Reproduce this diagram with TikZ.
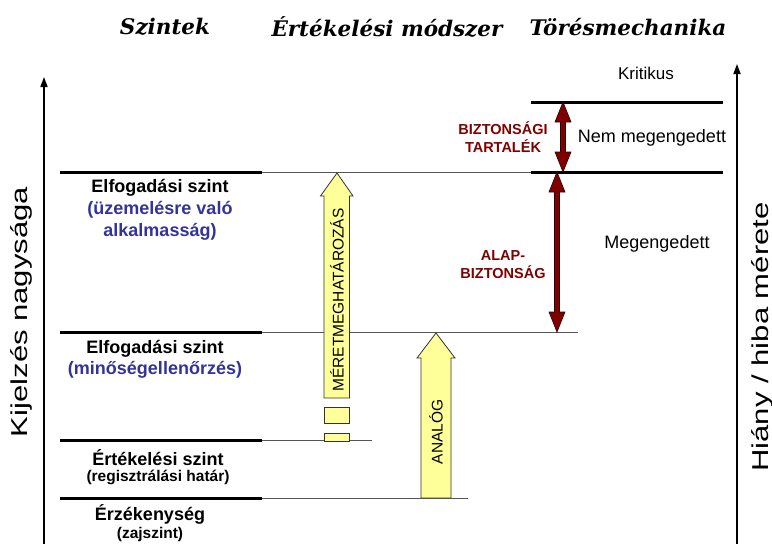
\documentclass[tikz,border=0pt]{standalone}
\usepackage{fontspec}
\setmainfont{Liberation Sans}
\newfontfamily\titlefont{DejaVu Serif}
\usetikzlibrary{arrows.meta}
\definecolor{darkred}{HTML}{800000}
\definecolor{lblue}{HTML}{333399}
\definecolor{pyellow}{HTML}{FFFF99}
\definecolor{thingray}{HTML}{555555}
\tikzset{
  title/.style={font=\titlefont\bfseries\itshape\fontsize{21.5}{24}\selectfont},
  lvl/.style={font=\bfseries\fontsize{18}{21}\selectfont, align=center, inner sep=0pt},
  lvlsmall/.style={font=\bfseries\fontsize{15.5}{18}\selectfont, align=center, inner sep=0pt},
  rlabel/.style={font=\fontsize{18}{21}\selectfont, inner sep=0pt},
  redlabel/.style={font=\bfseries\fontsize{14.5}{18}\selectfont, text=darkred, align=center, inner sep=0pt},
  vlabel/.style={font=\fontsize{15.5}{18}\selectfont, rotate=90, inner sep=0pt},
  axislabel/.style={font=\fontsize{23}{26}\selectfont, rotate=90, inner sep=0pt},
  thickline/.style={line width=3pt},
  thinline/.style={line width=1pt, thingray},
  yarrow/.style={fill=pyellow, draw=black!80, line width=0.8pt},
  axis/.style={line width=1.6pt, -{Triangle[width=7pt,length=10pt]}},
  redarrow/.style={fill=darkred, draw=black!70!darkred, line width=0.6pt}
}
\newcommand{\dblarr}[3]{%
  \filldraw[redarrow] (#1,#2) -- (#1+8,#2+20) -- (#1+2.5,#2+20) -- (#1+2.5,#3-20) -- (#1+8,#3-20)
   -- (#1,#3) -- (#1-8,#3-20) -- (#1-2.5,#3-20) -- (#1-2.5,#2+20) -- (#1-8,#2+20) -- cycle;}
\begin{document}
\begin{tikzpicture}[x=1pt,y=-1pt]
\useasboundingbox (0,0) rectangle (772,544);
% titles
\node[title] (t1) at (165,27) {Szintek};
\node[title] (t2) at (387,27) {Értékelési módszer};
\node[title] (t3) at (628,27) {Törésmechanika};
% axes
\coordinate (la0) at (44,544); \coordinate (la1) at (44,77);
\coordinate (ra0) at (737,544); \coordinate (ra1) at (737,64);
\draw[axis] (la0) -- (la1);
\draw[axis] (ra0) -- (ra1);
\node[axislabel] (yl) at (21,312) {\scalebox{1.35}[1]{Kijelzés nagysága}};
\node[axislabel] (yr) at (762,337) {\scalebox{1.35}[1]{Hiány / hiba mérete}};
% level lines
\coordinate (a0) at (531,102); \coordinate (a1) at (723,102);
\draw[thickline] (a0) -- (a1);
\coordinate (b0) at (60,172); \coordinate (b1) at (262,172); \coordinate (b2) at (531,172); \coordinate (b3) at (723,172);
\draw[thinline] (b1) -- (b2);
\draw[thickline] (b0) -- (b1);
\draw[thickline] (b2) -- (b3);
\coordinate (c0) at (60,332); \coordinate (c1) at (262,332); \coordinate (c2) at (578,332);
\draw[thinline] (c1) -- (c2);
\draw[thickline] (c0) -- (c1);
\coordinate (d0) at (60,440); \coordinate (d1) at (262,440); \coordinate (d2) at (372,440);
\draw[thinline] (d1) -- (d2);
\draw[thickline] (d0) -- (d1);
\coordinate (e0) at (60,498); \coordinate (e1) at (262,498); \coordinate (e2) at (468,498);
\draw[thinline] (e1) -- (e2);
\draw[thickline] (e0) -- (e1);
% left labels
\node[lvl] (l1) at (160,188) {Elfogadási szint};
\node[lvl, text=lblue] (l1b) at (160,210) {(üzemelésre való};
\node[lvl, text=lblue] (l1c) at (160,232) {alkalmasság)};
\node[lvl] (l2) at (155,349) {Elfogadási szint};
\node[lvl, text=lblue] (l2b) at (155,370) {(minőségellenőrzés)};
\node[lvl] (l3) at (158,458) {Értékelési szint};
\node[lvlsmall] (l3b) at (158,477) {(regisztrálási határ)};
\node[lvl] (l4) at (150,514) {Érzékenység};
\node[lvlsmall] (l4b) at (150,534) {(zajszint)};
% yellow arrows
\filldraw[yarrow] (324,398) -- (324,196) -- (320.5,196) -- (337,173) -- (353,196) -- (349.5,196) -- (349.5,398) -- cycle;
\filldraw[yarrow] (324,407) rectangle (349.5,423);
\filldraw[yarrow] (324,433) rectangle (349.5,441);
\node[vlabel] (m1) at (337,300) {MÉRETMEGHATÁROZÁS};
\filldraw[yarrow] (421,498) -- (421,358) -- (417,358) -- (436,333) -- (455,358) -- (451,358) -- (451,498) -- cycle;
\node[vlabel] (m2) at (436,432) {ANALÓG};
% red arrows
\dblarr{563}{102}{172}
\dblarr{557}{172}{332}
\node[redlabel] (r1) at (503,137) {BIZTONSÁGI\\TARTALÉK};
\node[redlabel] (r2) at (503,265) {ALAP-\\BIZTONSÁG};
% right labels
\node[rlabel, font=\fontsize{17}{20}\selectfont] (k) at (646,73) {Kritikus};
\node[rlabel] (nm) at (652,138) {Nem megengedett};
\node[rlabel] (mg) at (657,244) {Megengedett};
\end{tikzpicture}
\end{document}
